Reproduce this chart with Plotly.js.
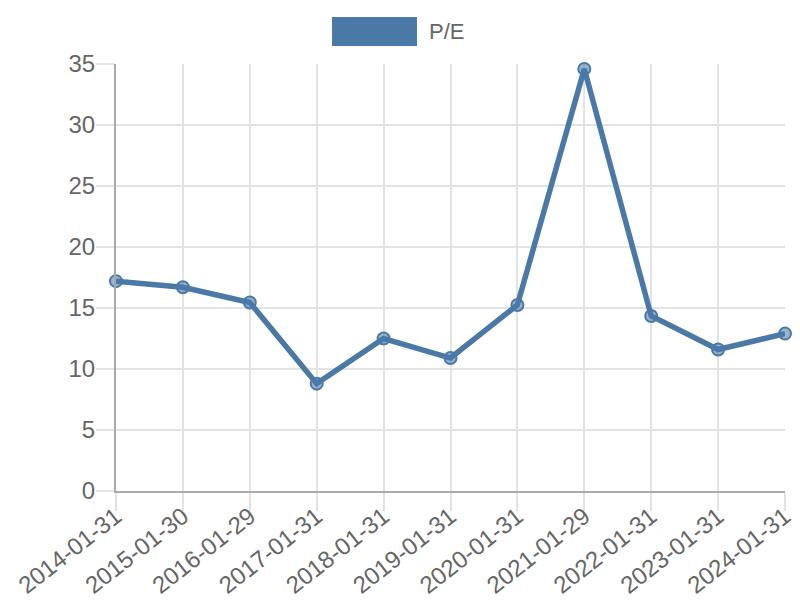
<!DOCTYPE html>
<html>
<head>
<meta charset="utf-8">
<script src="https://cdn.plot.ly/plotly-3.0.1.min.js"></script>
<style>html,body{margin:0;padding:0;background:#fff;}#chart{width:800px;height:600px;}</style>
</head>
<body>
<div id="chart"></div>
<script>
const dates = ["2014-01-31","2015-01-30","2016-01-29","2017-01-31","2018-01-31","2019-01-31","2020-01-31","2021-01-29","2022-01-31","2023-01-31","2024-01-31"];
const peValues = [17.2, 16.7, 15.45, 8.8, 12.5, 10.9, 15.25, 34.6, 14.35, 11.6, 12.9];
const seriesName = "P/E";

const lineColor = "rgb(74,121,168)";
const trace = {
  x: dates, y: peValues, type: "scatter", mode: "lines+markers", name: seriesName,
  line: {color: lineColor, width: 5.5},
  marker: {size: 12, color: "rgba(74,121,168,0.55)", line: {color: lineColor, width: 2}},
  cliponaxis: false, showlegend: false
};
const tickFont = {family: "Liberation Sans, Arial, sans-serif", size: 24, color: "#666"};
const legendFont = {family: "Liberation Sans, Arial, sans-serif", size: 22, color: "#666"};
const gridCol = "#e3e3e3";
const layout = {
  width: 800, height: 600,
  margin: {l: 116, r: 15, t: 64, b: 109},
  paper_bgcolor: "#fff", plot_bgcolor: "#fff",
  font: tickFont,
  showlegend: false,
  xaxis: {type: "category", range: [0, dates.length - 1], tickangle: -38,
    showgrid: true, gridcolor: gridCol, gridwidth: 2,
    showline: true, linecolor: "#aaa", linewidth: 2,
    ticks: "outside", ticklen: 18, tickwidth: 2, tickcolor: gridCol, tickfont: tickFont,
    ticklabelstandoff: -18, zeroline: false},
  yaxis: {range: [0, 35], dtick: 5, tick0: 0,
    showgrid: true, gridcolor: gridCol, gridwidth: 2,
    showline: true, linecolor: "#aaa", linewidth: 2,
    ticks: "outside", ticklen: 18, tickwidth: 2, tickcolor: gridCol, tickfont: tickFont,
    ticklabelstandoff: -4, zeroline: false},
  shapes: [{type: "rect", xref: "paper", yref: "paper", x0: 0.3229, x1: 0.4499, y0: 1.042, y1: 1.110,
    fillcolor: lineColor, line: {width: 0}}],
  annotations: [{xref: "paper", yref: "paper", x: 0.4649, y: 1.0761, xanchor: "left", yanchor: "middle",
    text: seriesName, showarrow: false, font: legendFont}]
};
Plotly.newPlot("chart", [trace], layout, {displayModeBar: false, staticPlot: true});
</script>
</body>
</html>
